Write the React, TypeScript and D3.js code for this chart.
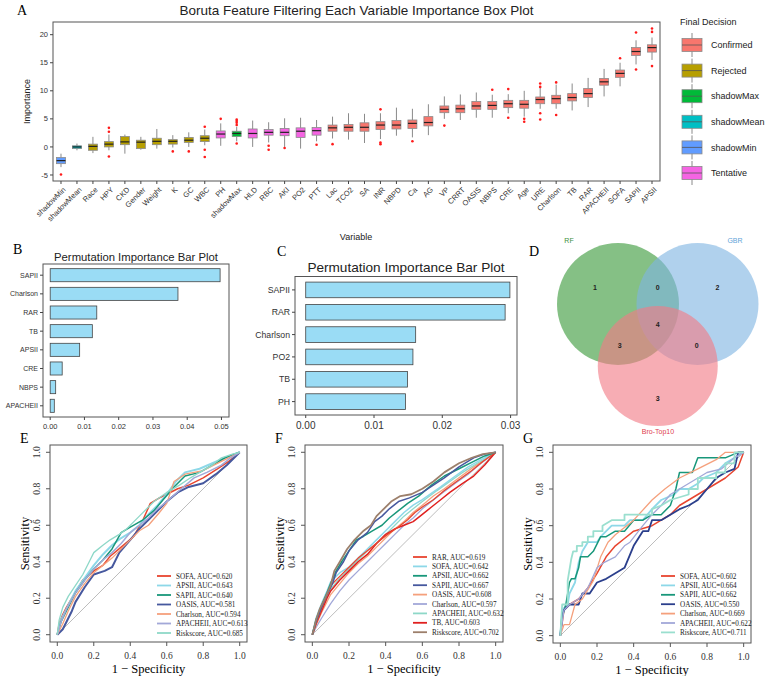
import React, { useEffect, useRef } from 'react';
import * as d3 from 'd3';

const SANS = "'Liberation Sans', Arial, sans-serif";
const SERIF = "'Liberation Serif', 'Times New Roman', serif";

// ---- A: Boruta importance per variable ----
const borutaVars = ["shadowMin", "shadowMean", "Race", "HPY", "CKD", "Gender", "Weight", "K", "GC", "WBC", "PH", "shadowMax", "HLD", "RBC", "AKI", "PO2", "PTT", "Lac", "TCO2", "SA", "INR", "NBPD", "Ca", "AG", "VP", "CRRT", "OASIS", "NBPS", "CRE", "Age", "URE", "Charlson", "TB", "RAR", "APACHEII", "SOFA", "SAPII", "APSII"];
const borutaDecision = ["shadowMin", "shadowMean", "Rejected", "Rejected", "Rejected", "Rejected", "Rejected", "Rejected", "Rejected", "Rejected", "Tentative", "shadowMax", "Tentative", "Tentative", "Tentative", "Tentative", "Tentative", "Confirmed", "Confirmed", "Confirmed", "Confirmed", "Confirmed", "Confirmed", "Confirmed", "Confirmed", "Confirmed", "Confirmed", "Confirmed", "Confirmed", "Confirmed", "Confirmed", "Confirmed", "Confirmed", "Confirmed", "Confirmed", "Confirmed", "Confirmed", "Confirmed"];
const borutaLow = [-3.6, -0.6, -1.1, -0.6, -1.2, -0.5, -0.3, -0.1, 0.0, 0.3, 0.2, 1.0, 0.0, 0.8, 0.0, -0.3, 1.0, 1.5, 1.3, 0.7, 1.4, 2.0, 1.7, 2.1, 5.0, 4.8, 5.2, 5.2, 6.0, 5.4, 6.8, 6.8, 6.5, 7.1, 9.0, 10.8, 14.7, 15.5];
const borutaQ1 = [-2.98, -0.3, -0.6, 0.0, 0.4, -0.3, 0.4, 0.5, 0.8, 0.95, 1.6, 1.85, 1.6, 2.1, 2.0, 1.7, 2.1, 2.8, 2.8, 2.8, 3.1, 3.2, 3.3, 3.75, 6.1, 6.1, 6.7, 6.7, 7.0, 6.9, 7.7, 7.7, 8.2, 8.8, 11.0, 12.4, 16.3, 16.9];
const borutaMedian = [-2.44, 0.0, 0.1, 0.5, 0.9, 0.85, 1.0, 1.0, 1.2, 1.55, 2.3, 2.4, 2.4, 2.6, 2.6, 2.8, 2.9, 3.4, 3.5, 3.5, 3.9, 3.9, 4.2, 4.35, 6.7, 6.8, 7.3, 7.4, 7.7, 7.6, 8.45, 8.6, 8.8, 9.5, 11.6, 13.1, 17.0, 17.7];
const borutaQ3 = [-1.9, 0.2, 0.5, 0.95, 1.85, 1.2, 1.55, 1.3, 1.7, 2.0, 2.85, 2.8, 3.2, 3.1, 3.3, 3.4, 3.45, 3.9, 4.0, 4.3, 4.5, 4.7, 4.8, 5.4, 7.3, 7.45, 8.1, 8.1, 8.3, 8.3, 8.9, 9.2, 9.5, 10.4, 12.2, 13.7, 17.7, 18.2];
const borutaHigh = [-1.2, 0.6, 1.8, 2.2, 2.2, 1.8, 3.2, 2.1, 2.6, 3.1, 4.2, 3.6, 4.7, 4.4, 5.1, 5.2, 4.8, 5.4, 6.0, 5.9, 6.0, 7.0, 6.8, 7.6, 9.0, 9.35, 9.7, 9.3, 9.4, 10.0, 10.6, 11.1, 11.3, 12.3, 13.9, 15.0, 19.0, 19.5];
const borutaOutliers = [[-4.9], [], [], [3.4, 2.7, -1.7], [], [], [], [-0.8], [-0.8], [3.6, -0.5, -1.8], [5.0], [4.9, 4.6, 4.3, 3.9, 0.6], [], [0.2, -0.5], [-0.2], [], [0.4], [0.5], [], [], [6.7, 0.8, 0.5], [], [1.0], [], [3.8], [], [], [10.2], [10.3, 5.2], [5.0, 4.5], [11.3, 10.7, 6.0, 4.9], [11.5, 5.7], [], [], [], [15.8], [20.4, 13.8], [21.1, 20.5, 14.4]];
const decisionLevels = ["Confirmed", "Rejected", "shadowMax", "shadowMean", "shadowMin", "Tentative"];
const decisionColors = ["#F8766D", "#B79F00", "#00BA38", "#00BFC4", "#619CFF", "#F564E3"];
const borutaTicks = [-5, 0, 5, 10, 15, 20];

// ---- B / C: permutation importance ----
const permBVars = ["SAPII", "Charlson", "RAR", "TB", "APSII", "CRE", "NBPS", "APACHEII"];
const permBValues = [0.0496, 0.0373, 0.0136, 0.0123, 0.0086, 0.0035, 0.0016, 0.0012];
const permBTicks = [0, 0.01, 0.02, 0.03, 0.04, 0.05];
const permCVars = ["SAPII", "RAR", "Charlson", "PO2", "TB", "PH"];
const permCValues = [0.0299, 0.0292, 0.0161, 0.0157, 0.0149, 0.0146];
const permCTicks = [0, 0.01, 0.02, 0.03];

// ---- D: venn counts ----
const vennSets = ["RF", "GBR", "Bro-Top10"];
const vennColors = ["#3a9a3a", "#80b4e2", "#f27b86"];
const vennLabelColors = ["#3d8f3d", "#5fa3d8", "#e0404f"];
const vennRegions = ["RF", "RF&GBR", "GBR", "all", "RF&Bro", "GBR&Bro", "Bro"];
const vennCounts = [1, 0, 2, 4, 3, 0, 3];

// ---- E / F / G: ROC curves (fpr, tpr) ----
const rocESofa = [[0,0],[0.01,0.06],[0.03,0.11],[0.05,0.15],[0.08,0.2],[0.11,0.25],[0.14,0.3],[0.2,0.35],[0.25,0.38],[0.29,0.43],[0.35,0.48],[0.42,0.54],[0.47,0.63],[0.51,0.72],[0.56,0.75],[0.6,0.77],[0.66,0.8],[0.72,0.82],[0.8,0.86],[0.88,0.91],[0.94,0.95],[1,1]];
const rocEApsii = [[0,0],[0.02,0.08],[0.05,0.14],[0.1,0.24],[0.15,0.31],[0.2,0.38],[0.25,0.44],[0.3,0.49],[0.35,0.53],[0.4,0.56],[0.45,0.6],[0.5,0.66],[0.55,0.71],[0.6,0.77],[0.65,0.84],[0.7,0.89],[0.78,0.91],[0.85,0.94],[0.92,0.97],[1,1]];
const rocESapii = [[0,0],[0.02,0.07],[0.05,0.13],[0.1,0.23],[0.15,0.3],[0.2,0.36],[0.25,0.41],[0.3,0.47],[0.35,0.56],[0.4,0.59],[0.47,0.63],[0.53,0.68],[0.58,0.74],[0.64,0.81],[0.7,0.87],[0.78,0.89],[0.85,0.93],[0.92,0.97],[1,1]];
const rocEOasis = [[0,0],[0.03,0.03],[0.05,0.07],[0.08,0.13],[0.1,0.18],[0.15,0.26],[0.2,0.33],[0.26,0.35],[0.3,0.37],[0.34,0.45],[0.4,0.52],[0.45,0.58],[0.5,0.63],[0.56,0.69],[0.6,0.73],[0.66,0.78],[0.72,0.81],[0.8,0.83],[0.87,0.88],[0.93,0.93],[1,1]];
const rocECharlson = [[0,0],[0.03,0.06],[0.06,0.13],[0.1,0.21],[0.15,0.28],[0.2,0.34],[0.3,0.42],[0.4,0.52],[0.45,0.57],[0.5,0.6],[0.56,0.67],[0.6,0.72],[0.64,0.84],[0.7,0.88],[0.8,0.9],[0.9,0.95],[1,1]];
const rocEApache = [[0,0],[0.02,0.07],[0.05,0.14],[0.1,0.23],[0.15,0.3],[0.2,0.36],[0.25,0.41],[0.3,0.45],[0.35,0.5],[0.4,0.56],[0.45,0.6],[0.5,0.64],[0.55,0.69],[0.6,0.73],[0.68,0.8],[0.75,0.86],[0.82,0.89],[0.9,0.93],[0.95,0.97],[1,1]];
const rocERisk = [[0,0],[0.01,0.08],[0.03,0.15],[0.06,0.21],[0.1,0.27],[0.14,0.33],[0.18,0.41],[0.2,0.45],[0.25,0.49],[0.29,0.52],[0.34,0.55],[0.38,0.58],[0.42,0.62],[0.45,0.65],[0.5,0.7],[0.53,0.73],[0.6,0.78],[0.67,0.82],[0.73,0.86],[0.78,0.89],[0.85,0.93],[0.9,0.97],[0.96,0.99],[1,1]];
const rocELabels = ["SOFA", "APSII", "SAPII", "OASIS", "Charlson", "APACHEII", "Riskscore"];
const rocEAuc = [0.620, 0.643, 0.640, 0.581, 0.594, 0.613, 0.685];

const rocFRar = [[0,0],[0.02,0.06],[0.05,0.14],[0.08,0.22],[0.1,0.27],[0.14,0.31],[0.2,0.37],[0.25,0.42],[0.3,0.46],[0.36,0.51],[0.41,0.55],[0.47,0.59],[0.52,0.63],[0.56,0.67],[0.6,0.7],[0.66,0.74],[0.72,0.79],[0.8,0.85],[0.87,0.9],[0.93,0.95],[1,1]];
const rocFSofa = [[0,0],[0.02,0.09],[0.05,0.17],[0.08,0.24],[0.1,0.29],[0.15,0.34],[0.2,0.37],[0.25,0.42],[0.3,0.47],[0.35,0.52],[0.4,0.57],[0.45,0.62],[0.5,0.67],[0.55,0.71],[0.6,0.74],[0.7,0.81],[0.78,0.87],[0.85,0.92],[0.92,0.96],[1,1]];
const rocFApsii = [[0,0],[0.02,0.08],[0.05,0.16],[0.08,0.23],[0.1,0.28],[0.13,0.35],[0.16,0.4],[0.2,0.46],[0.24,0.52],[0.28,0.54],[0.33,0.57],[0.38,0.6],[0.42,0.64],[0.47,0.68],[0.52,0.72],[0.58,0.76],[0.65,0.82],[0.72,0.87],[0.8,0.91],[0.88,0.95],[0.94,0.98],[1,1]];
const rocFSapii = [[0,0],[0.02,0.07],[0.05,0.15],[0.08,0.22],[0.11,0.28],[0.13,0.34],[0.17,0.4],[0.2,0.46],[0.25,0.52],[0.3,0.56],[0.34,0.62],[0.38,0.65],[0.42,0.69],[0.47,0.73],[0.53,0.75],[0.6,0.78],[0.66,0.82],[0.72,0.86],[0.8,0.92],[0.88,0.97],[0.94,0.99],[1,1]];
const rocFOasis = [[0,0],[0.02,0.05],[0.05,0.12],[0.1,0.22],[0.15,0.28],[0.2,0.34],[0.25,0.39],[0.3,0.43],[0.35,0.48],[0.4,0.53],[0.45,0.58],[0.5,0.62],[0.55,0.67],[0.6,0.71],[0.66,0.76],[0.72,0.8],[0.8,0.86],[0.88,0.92],[0.94,0.96],[1,1]];
const rocFCharlson = [[0,0],[0.02,0.04],[0.05,0.09],[0.1,0.17],[0.15,0.24],[0.2,0.3],[0.25,0.35],[0.3,0.4],[0.35,0.45],[0.4,0.5],[0.45,0.55],[0.5,0.6],[0.55,0.64],[0.6,0.69],[0.65,0.73],[0.7,0.77],[0.78,0.83],[0.85,0.88],[0.92,0.94],[1,1]];
const rocFApache = [[0,0],[0.02,0.07],[0.05,0.14],[0.1,0.25],[0.15,0.31],[0.2,0.36],[0.25,0.41],[0.3,0.46],[0.35,0.5],[0.4,0.55],[0.45,0.6],[0.5,0.65],[0.55,0.69],[0.6,0.73],[0.68,0.79],[0.75,0.84],[0.82,0.89],[0.9,0.94],[1,1]];
const rocFTb = [[0,0],[0.02,0.06],[0.05,0.13],[0.08,0.2],[0.1,0.24],[0.15,0.3],[0.2,0.35],[0.25,0.4],[0.3,0.44],[0.35,0.5],[0.4,0.55],[0.45,0.58],[0.5,0.6],[0.55,0.62],[0.6,0.66],[0.65,0.7],[0.7,0.74],[0.75,0.78],[0.82,0.83],[0.88,0.87],[0.94,0.93],[1,1]];
const rocFRisk = [[0,0],[0.02,0.08],[0.04,0.14],[0.07,0.2],[0.1,0.27],[0.12,0.35],[0.15,0.4],[0.19,0.47],[0.23,0.52],[0.28,0.57],[0.32,0.6],[0.35,0.65],[0.39,0.69],[0.43,0.73],[0.48,0.76],[0.54,0.77],[0.6,0.8],[0.66,0.84],[0.72,0.89],[0.8,0.94],[0.87,0.97],[0.93,0.99],[1,1]];
const rocFLabels = ["RAR", "SOFA", "APSII", "SAPII", "OASIS", "Charlson", "APACHEII", "TB", "Riskscore"];
const rocFAuc = [0.619, 0.642, 0.662, 0.667, 0.608, 0.597, 0.632, 0.603, 0.702];

const rocGSofa = [[0,0],[0.02,0.14],[0.05,0.17],[0.1,0.2],[0.15,0.26],[0.2,0.34],[0.25,0.43],[0.3,0.49],[0.35,0.53],[0.4,0.57],[0.5,0.6],[0.55,0.63],[0.6,0.66],[0.65,0.71],[0.7,0.74],[0.8,0.8],[0.9,0.86],[0.97,0.92],[1,1]];
const rocGApsii = [[0,0],[0.01,0.14],[0.04,0.17],[0.05,0.23],[0.08,0.29],[0.1,0.4],[0.12,0.46],[0.15,0.51],[0.2,0.51],[0.22,0.54],[0.25,0.57],[0.28,0.6],[0.35,0.6],[0.38,0.63],[0.45,0.63],[0.5,0.69],[0.55,0.74],[0.62,0.77],[0.65,0.8],[0.7,0.8],[0.75,0.83],[0.78,0.86],[0.85,0.89],[0.9,0.94],[0.95,0.97],[1,1]];
const rocGSapii = [[0,0],[0.01,0.1],[0.03,0.17],[0.05,0.29],[0.06,0.31],[0.08,0.31],[0.1,0.37],[0.11,0.43],[0.15,0.43],[0.18,0.46],[0.22,0.54],[0.25,0.54],[0.3,0.57],[0.35,0.57],[0.4,0.63],[0.45,0.63],[0.5,0.66],[0.55,0.66],[0.6,0.71],[0.63,0.8],[0.65,0.89],[0.72,0.89],[0.75,0.97],[0.9,0.97],[0.97,1],[1,1]];
const rocGOasis = [[0,0],[0.01,0.11],[0.02,0.14],[0.05,0.17],[0.1,0.17],[0.12,0.23],[0.16,0.23],[0.2,0.29],[0.25,0.31],[0.3,0.34],[0.35,0.37],[0.4,0.49],[0.45,0.57],[0.48,0.57],[0.5,0.63],[0.55,0.63],[0.6,0.66],[0.65,0.69],[0.7,0.71],[0.75,0.74],[0.8,0.8],[0.85,0.86],[0.9,0.89],[0.95,0.91],[0.97,1],[1,1]];
const rocGCharlson = [[0,0],[0.02,0.06],[0.05,0.06],[0.08,0.17],[0.12,0.2],[0.18,0.3],[0.22,0.43],[0.26,0.51],[0.3,0.55],[0.4,0.63],[0.5,0.74],[0.57,0.8],[0.65,0.86],[0.75,0.91],[0.85,0.96],[0.9,1],[1,1]];
const rocGApache = [[0,0],[0.02,0.14],[0.05,0.17],[0.1,0.2],[0.15,0.26],[0.2,0.37],[0.24,0.4],[0.3,0.43],[0.35,0.49],[0.38,0.51],[0.45,0.6],[0.5,0.66],[0.55,0.71],[0.6,0.77],[0.7,0.83],[0.8,0.89],[0.88,0.91],[0.95,0.97],[1,1]];
const rocGRisk = [[0,0],[0.01,0.17],[0.04,0.17],[0.04,0.3],[0.06,0.42],[0.07,0.46],[0.09,0.46],[0.09,0.49],[0.12,0.49],[0.12,0.51],[0.15,0.51],[0.15,0.54],[0.18,0.54],[0.18,0.57],[0.23,0.57],[0.23,0.6],[0.28,0.63],[0.35,0.63],[0.35,0.66],[0.5,0.66],[0.5,0.69],[0.55,0.71],[0.6,0.74],[0.7,0.77],[0.7,0.8],[0.75,0.8],[0.75,0.86],[0.85,0.86],[0.85,0.89],[0.9,0.89],[0.9,0.94],[0.95,0.94],[0.95,1],[1,1]];
const rocGLabels = ["SOFA", "APSII", "SAPII", "OASIS", "Charlson", "APACHEII", "Riskscore"];
const rocGAuc = [0.602, 0.664, 0.662, 0.550, 0.669, 0.622, 0.711];

const rocTicks = [0, 0.2, 0.4, 0.6, 0.8, 1.0];

const C_RED = "#E8452F", C_CYAN = "#8DD8E8", C_GREEN = "#18977A", C_NAVY = "#46589E",
  C_SALMON = "#F5A07C", C_LAV = "#A2A8D8", C_TEAL = "#8ED8C8", C_TB = "#E0201F", C_BROWN = "#9C7F6B";

type Pt = number[];

function drawRoc(svg: d3.Selection<SVGSVGElement, unknown, null, undefined>, opt: {
  left: number; right: number; top: number; bottom: number; letter: string;
  curves: Pt[][]; colors: string[]; widths: number[]; labels: string[]; auc: number[];
  legendColors: string[]; legendX: number; legendY: number; legendStep: number;
}) {
  const g = svg.append("g");
  const x = d3.scaleLinear().domain([-0.04, 1.04]).range([opt.left, opt.right]);
  const y = d3.scaleLinear().domain([-0.04, 1.04]).range([opt.bottom, opt.top]);

  g.append("text").attr("x", opt.left - 30).attr("y", opt.top - 2)
    .style("font-family", SERIF).style("font-size", "14px").text(opt.letter);

  // diagonal reference
  g.append("line").attr("x1", x(0)).attr("y1", y(0)).attr("x2", x(1)).attr("y2", y(1))
    .attr("stroke", "#bdbdbd").attr("stroke-width", 1);

  const line = d3.line<Pt>().x(d => x(d[0])).y(d => y(d[1]));
  opt.curves.forEach((c, i) => {
    g.append("path").datum(c).attr("d", line).attr("fill", "none")
      .attr("stroke", opt.colors[i]).attr("stroke-width", opt.widths[i]).attr("stroke-linejoin", "round");
  });

  g.append("rect").attr("x", opt.left).attr("y", opt.top)
    .attr("width", opt.right - opt.left).attr("height", opt.bottom - opt.top)
    .attr("fill", "none").attr("stroke", "#555").attr("stroke-width", 1);

  rocTicks.forEach(t => {
    g.append("line").attr("x1", x(t)).attr("x2", x(t)).attr("y1", opt.bottom).attr("y2", opt.bottom + 4).attr("stroke", "#555");
    g.append("text").attr("x", x(t)).attr("y", opt.bottom + 17).attr("text-anchor", "middle")
      .style("font-family", SERIF).style("font-size", "9.5px").attr("fill", "#333").text(t.toFixed(1));
    g.append("line").attr("y1", y(t)).attr("y2", y(t)).attr("x1", opt.left).attr("x2", opt.left - 4).attr("stroke", "#555");
    g.append("text").attr("transform", `translate(${opt.left - 10},${y(t)}) rotate(-90)`).attr("text-anchor", "middle")
      .style("font-family", SERIF).style("font-size", "9.5px").attr("fill", "#333").text(t.toFixed(1));
  });

  g.append("text").attr("x", (opt.left + opt.right) / 2).attr("y", opt.bottom + 31).attr("text-anchor", "middle")
    .style("font-family", SERIF).style("font-size", "12.5px").text("1 \u2212 Specificity");
  g.append("text").attr("transform", `translate(${opt.left - 21},${(opt.top + opt.bottom) / 2}) rotate(-90)`)
    .attr("text-anchor", "middle").style("font-family", SERIF).style("font-size", "12.5px").text("Sensitivity");

  opt.labels.forEach((lab, i) => {
    const ly = opt.legendY + i * opt.legendStep;
    g.append("line").attr("x1", opt.legendX).attr("x2", opt.legendX + 14).attr("y1", ly).attr("y2", ly)
      .attr("stroke", opt.legendColors[i]).attr("stroke-width", 1.8);
    g.append("text").attr("x", opt.legendX + 19).attr("y", ly + 2.5)
      .style("font-family", SERIF).style("font-size", "7.2px").attr("fill", "#222")
      .text(`${lab}, AUC=${opt.auc[i].toFixed(3)}`);
  });
}

function drawPerm(svg: d3.Selection<SVGSVGElement, unknown, null, undefined>, opt: {
  left: number; right: number; top: number; bottom: number; vars: string[]; values: number[];
  ticks: number[]; domain: [number, number]; title: string; titleSize: number; titleY: number;
  labelSize: number; tickSize: number; letter: string; letterX: number; letterY: number;
}) {
  const g = svg.append("g");
  const x = d3.scaleLinear().domain(opt.domain).range([opt.left, opt.right]);
  const y = d3.scalePoint<string>().domain(opt.vars).range([opt.top, opt.bottom]).padding(0.6);
  const bh = y.step() * 0.7;

  g.append("text").attr("x", opt.letterX).attr("y", opt.letterY)
    .style("font-family", SERIF).style("font-size", "14px").text(opt.letter);
  g.append("text").attr("x", (opt.left + opt.right) / 2).attr("y", opt.titleY).attr("text-anchor", "middle")
    .style("font-family", SANS).style("font-size", `${opt.titleSize}px`).attr("fill", "#222").text(opt.title);

  g.selectAll("rect.bar").data(opt.vars).enter().append("rect").attr("class", "bar")
    .attr("x", x(0)).attr("y", d => (y(d) as number) - bh / 2)
    .attr("width", (d, i) => x(opt.values[i]) - x(0)).attr("height", bh)
    .attr("fill", "#9ADCF5").attr("stroke", "#444").attr("stroke-width", 0.8);

  g.append("rect").attr("x", opt.left).attr("y", opt.top)
    .attr("width", opt.right - opt.left).attr("height", opt.bottom - opt.top)
    .attr("fill", "none").attr("stroke", "#555").attr("stroke-width", 1);

  opt.vars.forEach(v => {
    const yy = y(v) as number;
    g.append("line").attr("x1", opt.left - 3).attr("x2", opt.left).attr("y1", yy).attr("y2", yy).attr("stroke", "#444");
    g.append("text").attr("x", opt.left - 5).attr("y", yy).attr("dy", "0.35em").attr("text-anchor", "end")
      .style("font-family", SANS).style("font-size", `${opt.labelSize}px`).attr("fill", "#333").text(v);
  });
  opt.ticks.forEach(t => {
    g.append("line").attr("x1", x(t)).attr("x2", x(t)).attr("y1", opt.bottom).attr("y2", opt.bottom + 3).attr("stroke", "#444");
    g.append("text").attr("x", x(t)).attr("y", opt.bottom + 6).attr("dy", "0.75em").attr("text-anchor", "middle")
      .style("font-family", SANS).style("font-size", `${opt.tickSize}px`).attr("fill", "#333").text(t.toFixed(2));
  });
}

export default function App() {
  const svgRef = useRef<SVGSVGElement>(null);

  useEffect(() => {
    if (!svgRef.current) return;
    const svg = d3.select(svgRef.current);
    svg.selectAll("*").remove();

    // ---------- A: Boruta box plot ----------
    const aLeft = 53, aRight = 660, aTop = 22, aBottom = 181;
    const ax = d3.scaleBand().domain(borutaVars).range([aLeft, aRight]);
    const ay = d3.scaleLinear().domain([-6.07, 22.26]).range([aBottom, aTop]);
    const color = d3.scaleOrdinal<string, string>().domain(decisionLevels).range(decisionColors);
    const a = svg.append("g");

    a.append("text").attr("x", 17).attr("y", 15).style("font-family", SERIF).style("font-size", "14px").text("A");
    a.append("text").attr("x", (aLeft + aRight) / 2).attr("y", 15).attr("text-anchor", "middle")
      .style("font-family", SANS).style("font-size", "13.5px").attr("fill", "#222")
      .text("Boruta Feature Filtering Each Variable Importance Box Plot");

    const bw = ax.bandwidth() * 0.56;
    borutaVars.forEach((v, i) => {
      const cx = (ax(v) as number) + ax.bandwidth() / 2;
      a.append("line").attr("x1", cx).attr("x2", cx).attr("y1", ay(borutaHigh[i])).attr("y2", ay(borutaQ3[i]))
        .attr("stroke", "#8a8a8a").attr("stroke-width", 1);
      a.append("line").attr("x1", cx).attr("x2", cx).attr("y1", ay(borutaQ1[i])).attr("y2", ay(borutaLow[i]))
        .attr("stroke", "#8a8a8a").attr("stroke-width", 1);
      a.append("rect").attr("x", cx - bw / 2).attr("y", ay(borutaQ3[i])).attr("width", bw)
        .attr("height", ay(borutaQ1[i]) - ay(borutaQ3[i]))
        .attr("fill", color(borutaDecision[i])).attr("stroke", "#8a8a8a").attr("stroke-width", 0.8);
      a.append("line").attr("x1", cx - bw / 2).attr("x2", cx + bw / 2)
        .attr("y1", ay(borutaMedian[i])).attr("y2", ay(borutaMedian[i]))
        .attr("stroke", "#222").attr("stroke-width", 1.2);
      borutaOutliers[i].forEach(o => {
        a.append("circle").attr("cx", cx).attr("cy", ay(o)).attr("r", 1.3).attr("fill", "#ff1a1a");
      });
    });

    a.append("rect").attr("x", aLeft).attr("y", aTop).attr("width", aRight - aLeft).attr("height", aBottom - aTop)
      .attr("fill", "none").attr("stroke", "#555").attr("stroke-width", 1);

    borutaTicks.forEach(t => {
      a.append("line").attr("x1", aLeft - 3).attr("x2", aLeft).attr("y1", ay(t)).attr("y2", ay(t)).attr("stroke", "#444");
      a.append("text").attr("x", aLeft - 5).attr("y", ay(t)).attr("dy", "0.35em").attr("text-anchor", "end")
        .style("font-family", SANS).style("font-size", "7.5px").attr("fill", "#333").text(t);
    });
    borutaVars.forEach(v => {
      const cx = (ax(v) as number) + ax.bandwidth() / 2;
      a.append("line").attr("x1", cx).attr("x2", cx).attr("y1", aBottom).attr("y2", aBottom + 3).attr("stroke", "#444");
      a.append("text").attr("transform", `translate(${cx + 2},${aBottom + 6}) rotate(-45)`)
        .attr("text-anchor", "end").attr("dy", "0.6em")
        .style("font-family", SANS).style("font-size", "7.5px").attr("fill", "#333").text(v);
    });
    a.append("text").attr("transform", `translate(30,${(aTop + aBottom) / 2}) rotate(-90)`).attr("text-anchor", "middle")
      .style("font-family", SANS).style("font-size", "9px").attr("fill", "#222").text("Importance");
    a.append("text").attr("x", 356).attr("y", 240).attr("text-anchor", "middle")
      .style("font-family", SANS).style("font-size", "9px").attr("fill", "#222").text("Variable");

    // legend
    a.append("text").attr("x", 680).attr("y", 25).style("font-family", SANS).style("font-size", "9px")
      .attr("fill", "#222").text("Final Decision");
    decisionLevels.forEach((lv, i) => {
      const cy = 45 + i * 25.6;
      a.append("line").attr("x1", 692).attr("x2", 692).attr("y1", cy - 12).attr("y2", cy + 12).attr("stroke", "#8a8a8a");
      a.append("rect").attr("x", 682).attr("y", cy - 6.5).attr("width", 20).attr("height", 13)
        .attr("fill", decisionColors[i]).attr("stroke", "#8a8a8a").attr("stroke-width", 0.8);
      a.append("line").attr("x1", 682).attr("x2", 702).attr("y1", cy).attr("y2", cy).attr("stroke", "#555").attr("stroke-width", 0.8);
      a.append("text").attr("x", 711).attr("y", cy).attr("dy", "0.35em").style("font-family", SANS)
        .style("font-size", "9px").attr("fill", "#222").text(lv);
    });

    // ---------- B / C ----------
    drawPerm(svg, {
      left: 43, right: 229, top: 264, bottom: 417, vars: permBVars, values: permBValues,
      ticks: permBTicks, domain: [-0.0021, 0.0522], title: "Permutation Importance Bar Plot",
      titleSize: 11.3, titleY: 261, labelSize: 7, tickSize: 7.5, letter: "B", letterX: 13, letterY: 254,
    });
    drawPerm(svg, {
      left: 295, right: 517, top: 276.5, bottom: 415, vars: permCVars, values: permCValues,
      ticks: permCTicks, domain: [-0.00157, 0.03094], title: "Permutation Importance Bar Plot",
      titleSize: 13.6, titleY: 272, labelSize: 8.7, tickSize: 10, letter: "C", letterX: 277, letterY: 256,
    });

    // ---------- D: venn ----------
    const d = svg.append("g");
    d.append("text").attr("x", 529).attr("y", 256).style("font-family", SERIF).style("font-size", "14px").text("D");
    const vx = d3.scaleLinear().domain([0, 1]).range([618, 697.5]);
    const circles = [[0, 304, 61], [1, 304, 61], [0.5, 366, 60]];
    circles.forEach((c, i) => {
      d.append("circle").attr("cx", vx(c[0])).attr("cy", c[1]).attr("r", c[2])
        .attr("fill", vennColors[i]).attr("fill-opacity", 0.62);
    });
    const setLabelPos = [[569, 243], [735, 243], [658, 434]];
    vennSets.forEach((s, i) => {
      d.append("text").attr("x", setLabelPos[i][0]).attr("y", setLabelPos[i][1]).attr("text-anchor", "middle")
        .style("font-family", SANS).style("font-size", "7px").attr("fill", vennLabelColors[i]).text(s);
    });
    const regionPos = [[-0.29, 288], [0.5, 288], [1.25, 288], [0.5, 325], [0.02, 346], [0.99, 346], [0.5, 399]];
    vennRegions.forEach((r, i) => {
      d.append("text").attr("x", vx(regionPos[i][0])).attr("y", regionPos[i][1]).attr("dy", "0.35em")
        .attr("text-anchor", "middle").style("font-family", SANS).style("font-size", "7px")
        .style("font-weight", "bold").attr("fill", "#222").text(vennCounts[i]);
    });

    // ---------- E / F / G: ROC ----------
    const eColors = [C_RED, C_CYAN, C_GREEN, C_NAVY, C_SALMON, C_LAV, C_TEAL];
    drawRoc(svg, {
      left: 50, right: 247, top: 445, bottom: 642, letter: "E",
      curves: [rocESofa, rocEApsii, rocESapii, rocEOasis, rocECharlson, rocEApache, rocERisk],
      colors: eColors, widths: [1.5, 2, 1.5, 2, 1.3, 1.5, 1.3],
      labels: rocELabels, auc: rocEAuc, legendColors: eColors, legendX: 157, legendY: 576, legendStep: 9.5,
    });
    // F: lighter curves first so the stronger ones sit on top
    drawRoc(svg, {
      left: 305, right: 503, top: 445, bottom: 642, letter: "F",
      curves: [rocFCharlson, rocFOasis, rocFApache, rocFSofa, rocFTb, rocFRar, rocFApsii, rocFSapii, rocFRisk],
      colors: [C_LAV, C_SALMON, C_TEAL, C_CYAN, C_TB, C_RED, C_GREEN, C_NAVY, C_BROWN],
      widths: [1.3, 1.3, 1.3, 1.5, 1.5, 1.3, 1.5, 1.5, 1.8],
      labels: rocFLabels, auc: rocFAuc,
      legendColors: [C_RED, C_CYAN, C_GREEN, C_NAVY, C_SALMON, C_LAV, C_TEAL, C_TB, C_BROWN],
      legendX: 413, legendY: 557, legendStep: 9.4,
    });
    const gColors = [C_RED, C_CYAN, C_GREEN, "#2B3F8C", C_SALMON, C_LAV, "#9ADFCF"];
    drawRoc(svg, {
      left: 553, right: 751, top: 445, bottom: 643, letter: "G",
      curves: [rocGSofa, rocGApsii, rocGSapii, rocGOasis, rocGCharlson, rocGApache, rocGRisk],
      colors: gColors, widths: [1.5, 1.8, 1.5, 1.8, 1.3, 1.3, 1.8],
      labels: rocGLabels, auc: rocGAuc, legendColors: gColors, legendX: 661, legendY: 576, legendStep: 9.4,
    });
  }, []);

  return (
    <svg ref={svgRef} width={767} height={676}
      style={{ position: 'absolute', left: 0, top: 0, background: '#fff', display: 'block' }} />
  );
}
